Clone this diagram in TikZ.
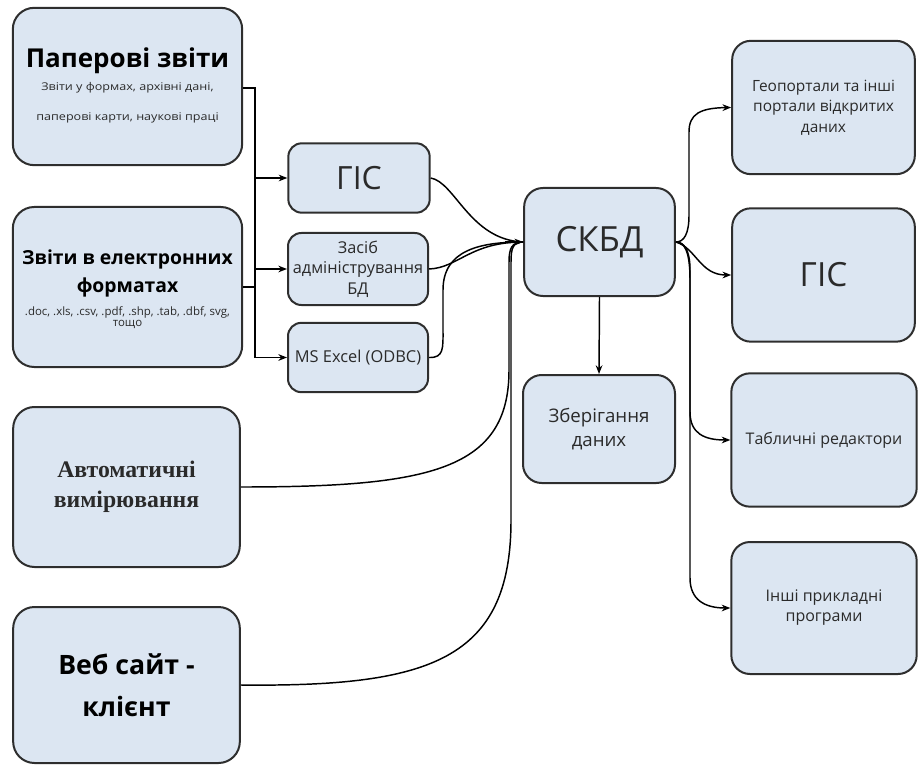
\documentclass[tikz,border=0pt]{standalone}
\usepackage{fontspec}
\setmainfont{Open Sans}
\newfontfamily\serifb{Liberation Serif}
\usetikzlibrary{arrows.meta}
\definecolor{boxfill}{HTML}{DCE6F2}
\definecolor{boxline}{HTML}{2E2E2E}
\definecolor{txt}{HTML}{2A2A2A}
\tikzset{
  box/.style={draw=boxline, line width=1.5pt, fill=boxfill, rounded corners=16pt, align=center, inner sep=2pt, text=txt},
  sbox/.style={box, rounded corners=10pt},
  rbox/.style={box, rounded corners=14pt},
  conn/.style={draw=black, line width=1.1pt},
  arr/.style={conn, -{Stealth[length=6.5pt,width=5pt]}},
  tiny/.style={font=\fontsize{8}{9}\selectfont, text=txt},
}
\begin{document}
\begin{tikzpicture}[x=0.75pt,y=-0.75pt]
\useasboundingbox (0,0) rectangle (919,766);
% left boxes
\node[box, minimum width=172pt, minimum height=118pt] (pap) at (127.5,86.5) {};
\node[font=\bfseries\fontsize{19.5}{22}\selectfont, text=black] (papt) at (127.5,61) {Паперові звіти};
\node[tiny] (paps1) at (127.5,88) {\scalebox{1.18}[1]{Звіти у формах, архівні дані,}};
\node[tiny] (paps2) at (127.5,118) {\scalebox{1.18}[1]{паперові карти, наукові праці}};

\node[box, minimum width=172pt, minimum height=120pt] (elec) at (127.5,287) {};
\node[font=\bfseries\fontsize{14.5}{21}\selectfont, text=black, align=center] (elect) at (127.5,273) {Звіти в електронних\\форматах};
\node[font=\fontsize{8.6}{8.6}\selectfont, text=txt, align=center] (elecs) at (127.5,317.5) {.doc, .xls, .csv, .pdf, .shp, .tab, .dbf, svg,\\тощо};

\node[box, minimum width=170pt, minimum height=120pt, font=\serifb\bfseries\fontsize{17.8}{22.5}\selectfont] (auto) at (126.5,487) {Автоматичні\\вимірювання};

\node[box, minimum width=170pt, minimum height=117pt, font=\bfseries\fontsize{20}{31.5}\selectfont, text=black] (web) at (126.5,685) {Веб сайт -\\клієнт};

% middle small boxes
\node[sbox, minimum width=106pt, minimum height=52pt, font=\fontsize{24}{26}\selectfont] (gis1) at (359,178) {ГІС};
\node[sbox, minimum width=105pt, minimum height=54pt, inner sep=1pt, font=\fontsize{12.2}{15.5}\selectfont] (adm) at (358,269) {Засіб\\адміністрування\\БД};
\node[sbox, minimum width=105pt, minimum height=52pt, inner sep=1pt, font=\fontsize{12.3}{13}\selectfont] (xls) at (358,357.5) {MS Excel (ODBC)};

% centre
\node[rbox, minimum width=113pt, minimum height=81pt, font=\fontsize{26}{28}\selectfont] (db) at (599.5,242) {СКБД};
\node[rbox, minimum width=114pt, minimum height=81pt, font=\fontsize{14}{18}\selectfont] (store) at (599,429) {Зберігання\\даних};

% right
\node[rbox, minimum width=137pt, minimum height=100pt, font=\fontsize{11.6}{15.5}\selectfont] (geo) at (823.5,107.5) {Геопортали та інші\\портали відкритих\\даних};
\node[rbox, minimum width=137pt, minimum height=100pt, font=\fontsize{25}{28}\selectfont] (gis2) at (823.5,275) {ГІС};
\node[rbox, minimum width=139pt, minimum height=100pt, font=\fontsize{12}{13}\selectfont] (tab) at (824,440) {Табличні редактори};
\node[rbox, minimum width=139pt, minimum height=99pt, font=\fontsize{12}{15}\selectfont] (oth) at (824,608) {Інші прикладні\\програми};

% bus on the left
\coordinate (bus) at (255,0);
\draw[conn] (pap.east |- 0,88) -| (bus |- xls.west);
\draw[conn] (elec.east |- 0,287) -- (bus |- 0,287);
\draw[arr] (bus |- gis1.west) -- (gis1.west);
\draw[arr] (bus |- adm.west) -- (adm.west);
\draw[arr] (bus |- xls.west) -- (xls.west);

% into DBMS
\draw[conn] (gis1.east) .. controls (455,182) and (470,240) .. (db.west);
\draw[conn] (adm.east) .. controls (458,268) and (470,242) .. (db.west);
\draw[conn] (xls.east) .. controls (444,358) and (443,348) .. (443,330) -- (443,290) .. controls (443,250) and (480,242) .. (db.west);
\draw[conn] (auto.east) .. controls (430,487) and (509,470) .. (509,370) -- (509,262) .. controls (509,248) and (512,242) .. (db.west);
\draw[conn] (web.east) .. controls (430,687) and (511,660) .. (511,520) -- (511,262) .. controls (511,248) and (513,242) .. (db.west);
\coordinate (dbin) at ([xshift=-14pt]db.west);
\draw[arr] (dbin) -- (db.west);

% down to storage
\draw[arr] (db.south) -- (store.north);

% out of DBMS
\draw[arr] (db.east) .. controls (684,242) and (689,234) .. (689,215) -- (689,132) .. controls (689,114) and (700,108) .. (geo.west);
\draw[arr] (db.east) .. controls (696,248) and (700,275) .. (gis2.west);
\draw[arr] (db.east) .. controls (684,242) and (690,250) .. (690,270) -- (690,412) .. controls (690,434) and (705,440) .. (tab.west);
\draw[arr] (db.east) .. controls (684,242) and (690,250) .. (690,280) -- (690,578) .. controls (690,600) and (705,608) .. (oth.west);
\end{tikzpicture}
\end{document}
